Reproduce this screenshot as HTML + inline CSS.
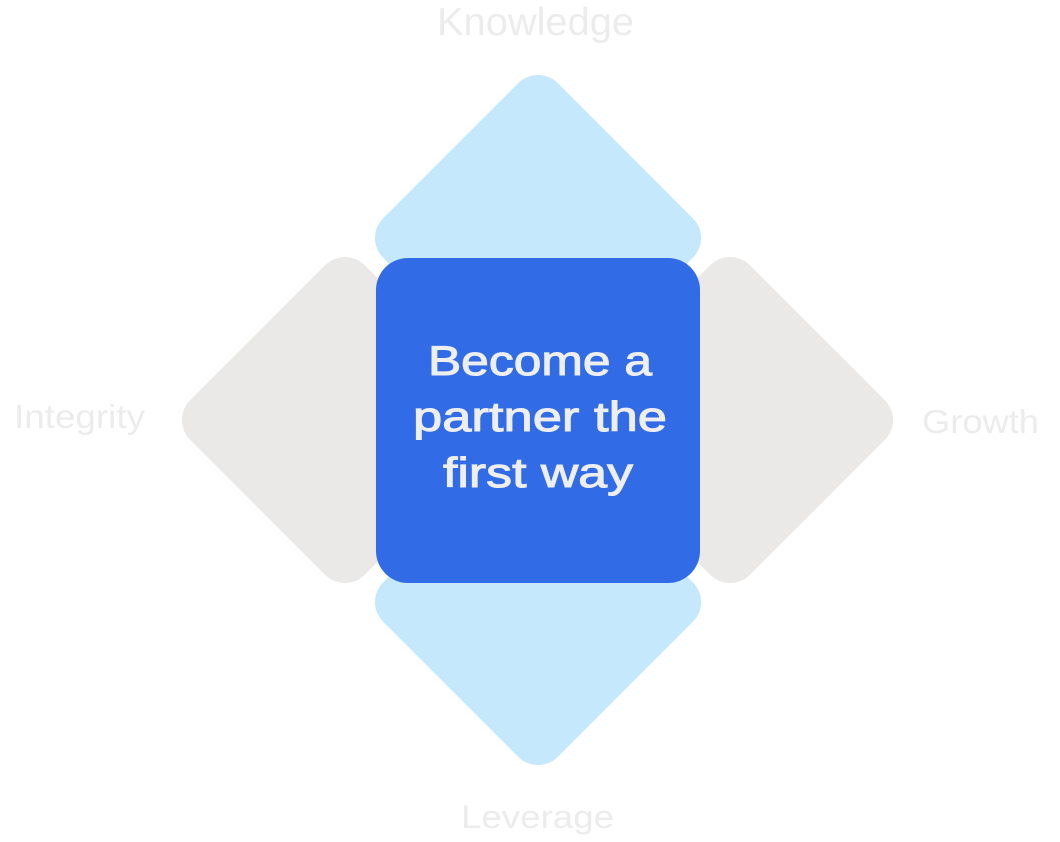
<!DOCTYPE html>
<html>
<head>
<meta charset="utf-8">
<style>
  html,body{margin:0;padding:0;background:#ffffff;}
  body{width:1060px;height:842px;overflow:hidden;}
  svg{display:block;}
</style>
</head>
<body>
<svg width="1060" height="842" viewBox="0 0 1060 842" xmlns="http://www.w3.org/2000/svg">
  <rect x="0" y="0" width="1060" height="842" fill="#ffffff"/>
  <!-- grey side diamonds -->
  <rect x="-123.5" y="-123.5" width="247" height="247" rx="28" ry="28" fill="#ebe9e7" transform="translate(345,420) rotate(45)"/>
  <rect x="-123.5" y="-123.5" width="247" height="247" rx="28" ry="28" fill="#ebe9e7" transform="translate(730,420) rotate(45)"/>
  <!-- light blue top/bottom diamonds -->
  <rect x="-123.5" y="-123.5" width="247" height="247" rx="28" ry="28" fill="#c6e8fd" transform="translate(538,238) rotate(45)"/>
  <rect x="-123.5" y="-123.5" width="247" height="247" rx="28" ry="28" fill="#c6e8fd" transform="translate(538,602) rotate(45)"/>
  <!-- center square -->
  <rect x="376" y="258" width="324" height="325" rx="32" ry="32" fill="#316ce6"/>

  <!-- center text -->
  <g font-family="'Liberation Sans', Arial, sans-serif" font-size="42" fill="#eeeeee" stroke="#eeeeee" stroke-width="1">
    <text x="428" y="375" textLength="224" lengthAdjust="spacingAndGlyphs">Become a</text>
    <text x="413" y="431" textLength="254" lengthAdjust="spacingAndGlyphs">partner the</text>
    <text x="443" y="487" textLength="190" lengthAdjust="spacingAndGlyphs">first way</text>
  </g>

  <!-- outer labels -->
  <g font-family="'Liberation Sans', Arial, sans-serif" fill="#ececec">
    <text x="437" y="35" font-size="39" textLength="197" lengthAdjust="spacingAndGlyphs">Knowledge</text>
    <text x="14" y="428" font-size="33" textLength="131" lengthAdjust="spacingAndGlyphs">Integrity</text>
    <text x="922" y="433" font-size="33" textLength="117" lengthAdjust="spacingAndGlyphs">Growth</text>
    <text x="461" y="828" font-size="32" textLength="153" lengthAdjust="spacingAndGlyphs">Leverage</text>
  </g>
</svg>
</body>
</html>
